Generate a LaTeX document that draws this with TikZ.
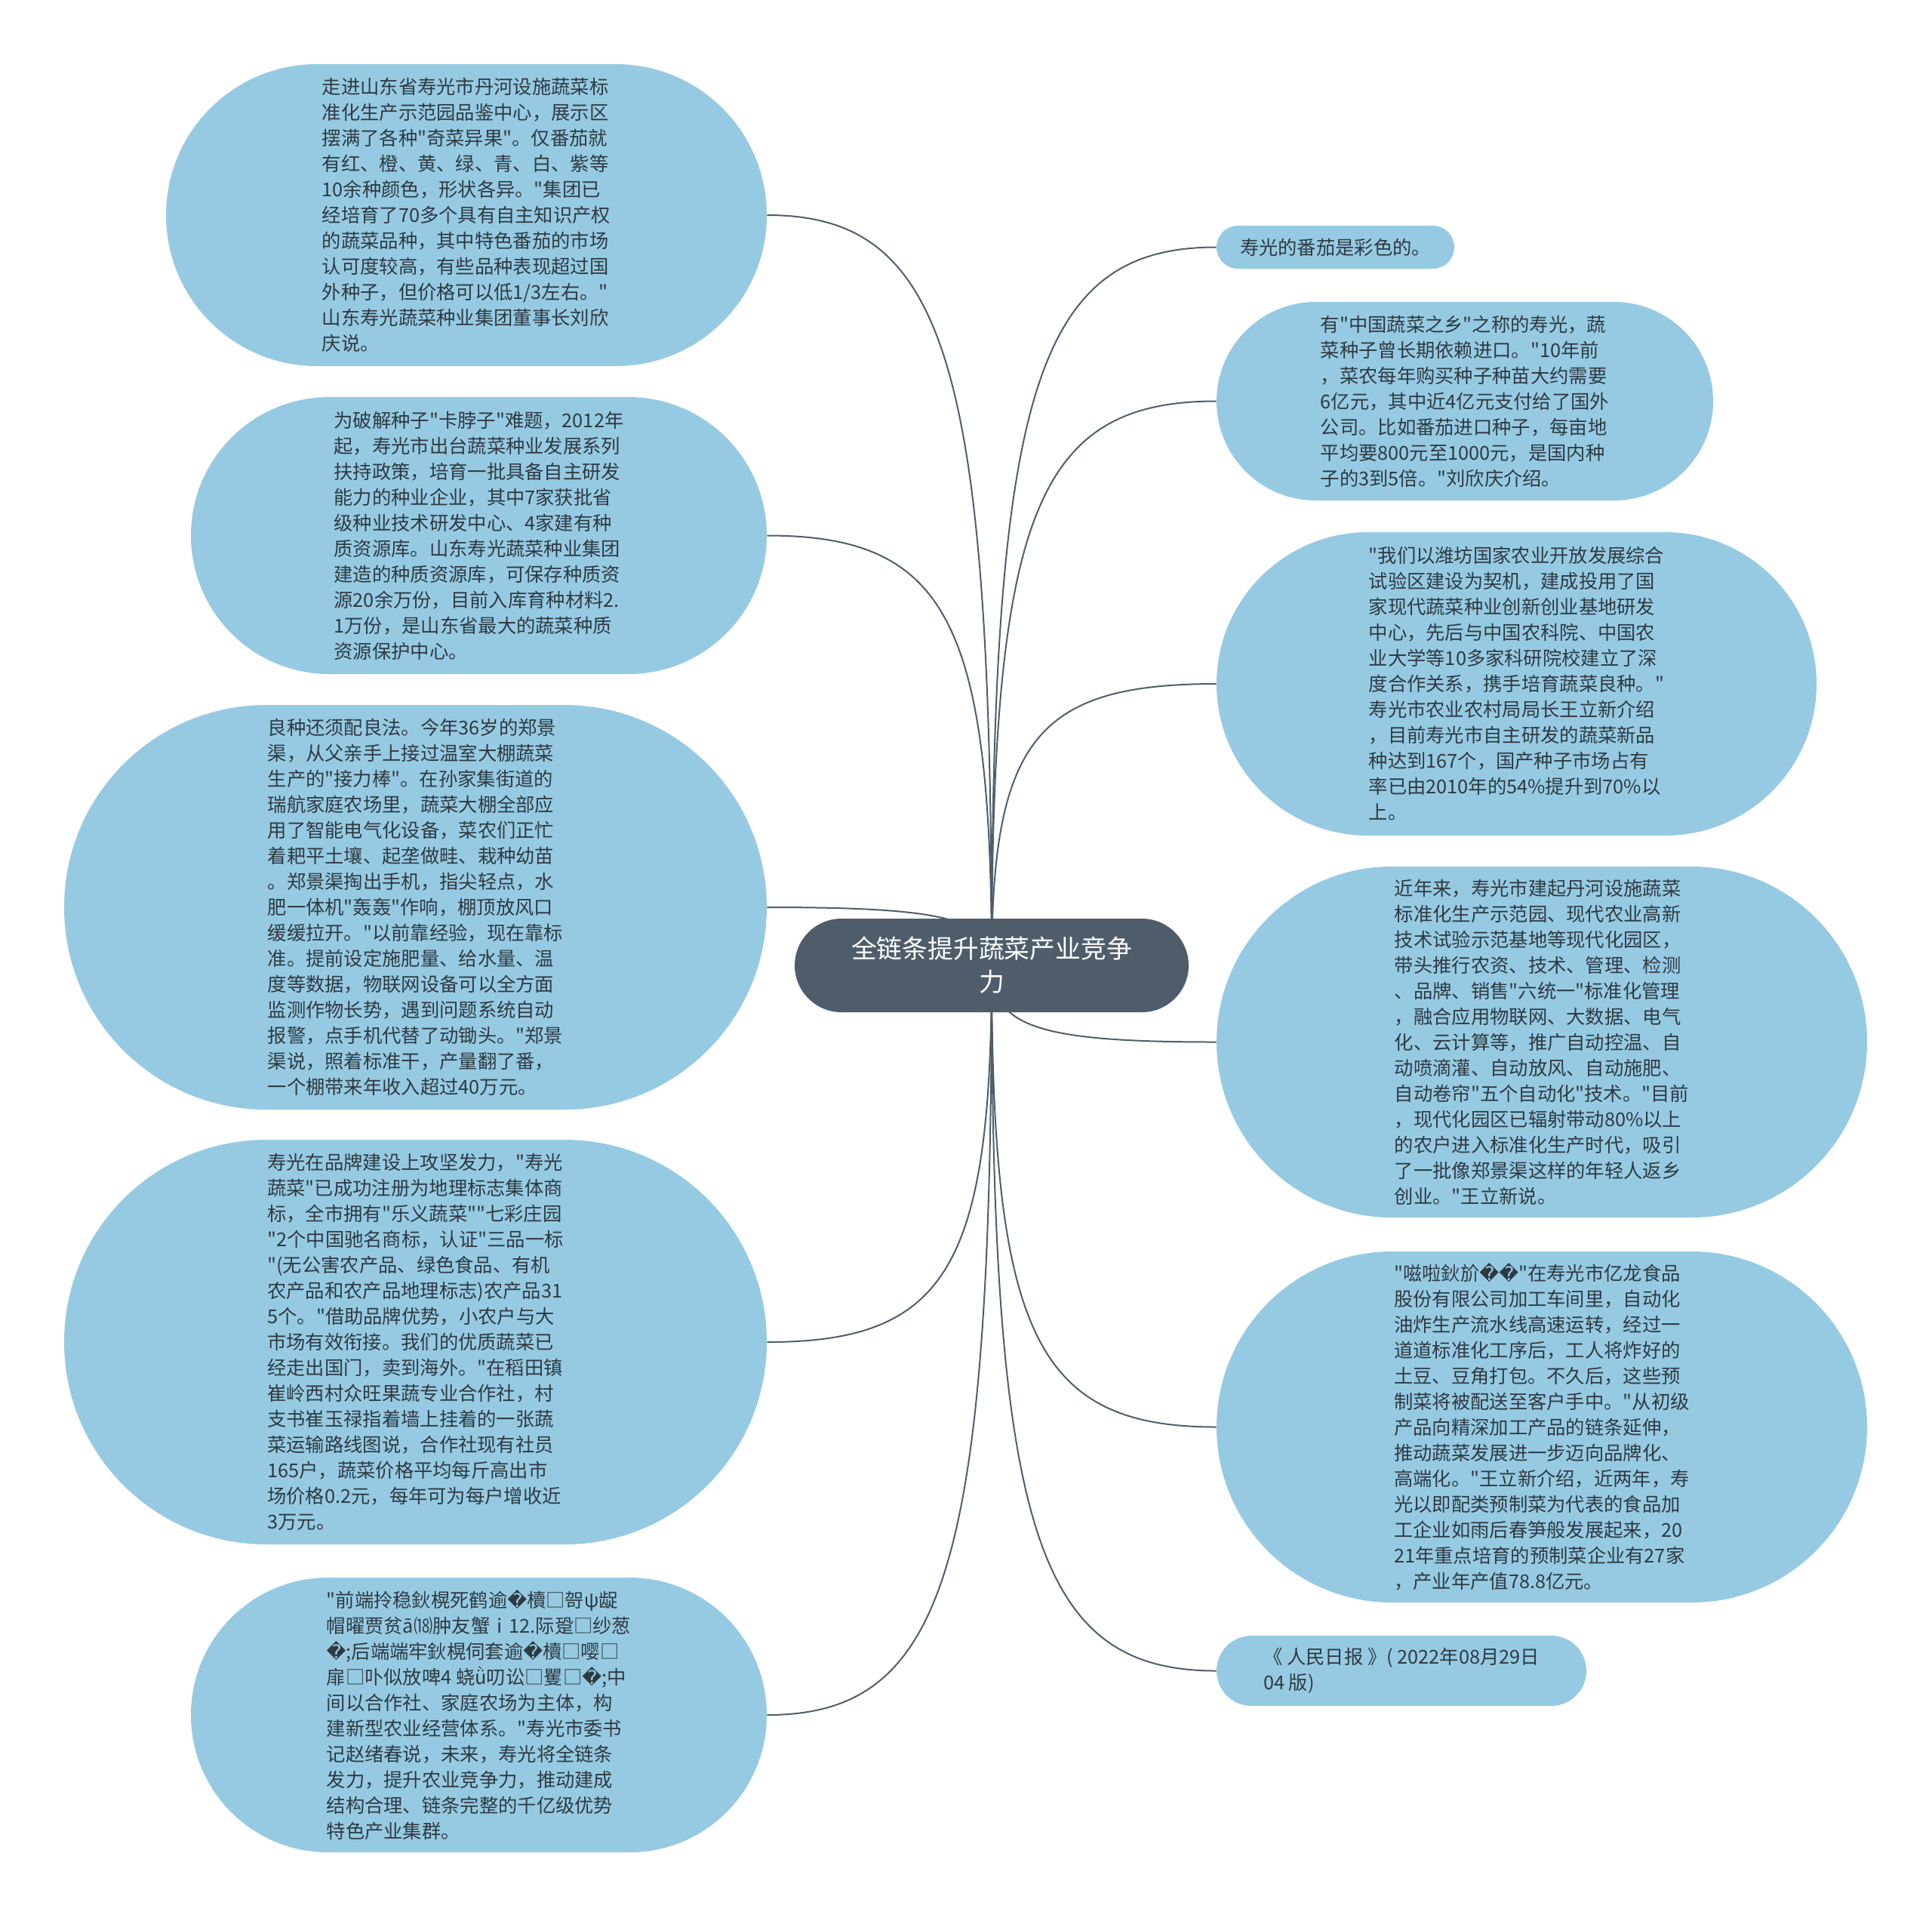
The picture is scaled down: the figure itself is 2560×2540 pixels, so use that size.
\documentclass[tikz,border=0pt]{standalone}
\usepackage{fontspec}
\setmainfont{Noto Sans CJK SC}[Ligatures=TeXOff]
\newfontfamily\dejavu{DejaVu Sans}
\usepackage{xcolor}
\usepackage{tikz}
\usetikzlibrary{shapes,positioning,backgrounds,calc}

\definecolor{leafblue}{HTML}{96CAE3}
\definecolor{slate}{HTML}{4F5D6B}
\definecolor{inkgray}{HTML}{2E3A42}
\newcommand{\badch}{{\dejavu �}}

\begin{document}
\begin{tikzpicture}[x=0.5pt, y=-0.5pt,
    topic/.style={rectangle, fill=slate, text=white, align=center, inner sep=0pt, font=\fontsize{16.9}{22}\selectfont},
    leaf/.style={rectangle, fill=leafblue, text=inkgray, align=left, inner sep=0pt, font=\fontsize{12.65}{17}\selectfont},
    link/.style={draw=slate, line width=1pt,
      to path={.. controls ($(\tikztostart)!0.8!(\tikztostart |- \tikztotarget)$) and ($(\tikztotarget)!0.8!(\tikztostart |- \tikztotarget)$) .. (\tikztotarget)}}
]
\useasboundingbox (0,0) rectangle (2560,2540);

% central topic
\node[topic, minimum width=261pt, minimum height=62pt, rounded corners=31pt] (root) at (1314,1279)
  {全链条提升蔬菜产业竞争\\力};

% left side
\node[leaf, minimum width=398pt, minimum height=200pt, rounded corners=99.9pt] (tomato_show) at (618,285)
  {走进山东省寿光市丹河设施蔬菜标\\准化生产示范园品鉴中心，展示区\\摆满了各种"奇菜异果"。仅番茄就\\有红、橙、黄、绿、青、白、紫等\\10余种颜色，形状各异。"集团已\\经培育了70多个具有自主知识产权\\的蔬菜品种，其中特色番茄的市场\\认可度较高，有些品种表现超过国\\外种子，但价格可以低1/3左右。"\\山东寿光蔬菜种业集团董事长刘欣\\庆说。};
\node[leaf, minimum width=381.5pt, minimum height=183.5pt, rounded corners=91.7pt] (seed_policy) at (634.5,709.5)
  {为破解种子"卡脖子"难题，2012年\\起，寿光市出台蔬菜种业发展系列\\扶持政策，培育一批具备自主研发\\能力的种业企业，其中7家获批省\\级种业技术研发中心、4家建有种\\质资源库。山东寿光蔬菜种业集团\\建造的种质资源库，可保存种质资\\源20余万份，目前入库育种材料2.\\1万份，是山东省最大的蔬菜种质\\资源保护中心。};
\node[leaf, minimum width=465.5pt, minimum height=268pt, rounded corners=133.9pt] (smart_farm) at (550.5,1202)
  {良种还须配良法。今年36岁的郑景\\渠，从父亲手上接过温室大棚蔬菜\\生产的"接力棒"。在孙家集街道的\\瑞航家庭农场里，蔬菜大棚全部应\\用了智能电气化设备，菜农们正忙\\着耙平土壤、起垄做畦、栽种幼苗\\。郑景渠掏出手机，指尖轻点，水\\肥一体机"轰轰"作响，棚顶放风口\\缓缓拉开。"以前靠经验，现在靠标\\准。提前设定施肥量、给水量、温\\度等数据，物联网设备可以全方面\\监测作物长势，遇到问题系统自动\\报警，点手机代替了动锄头。"郑景\\渠说，照着标准干，产量翻了番，\\一个棚带来年收入超过40万元。};
\node[leaf, minimum width=465.5pt, minimum height=268pt, rounded corners=133.9pt] (brand) at (550.5,1778)
  {寿光在品牌建设上攻坚发力，"寿光\\蔬菜"已成功注册为地理标志集体商\\标，全市拥有"乐义蔬菜""七彩庄园\\"2个中国驰名商标，认证"三品一标\\"(无公害农产品、绿色食品、有机\\农产品和农产品地理标志)农产品31\\5个。"借助品牌优势，小农户与大\\市场有效衔接。我们的优质蔬菜已\\经走出国门，卖到海外。"在稻田镇\\崔岭西村众旺果蔬专业合作社，村\\支书崔玉禄指着墙上挂着的一张蔬\\菜运输路线图说，合作社现有社员\\165户，蔬菜价格平均每斤高出市\\场价格0.2元，每年可为每户增收近\\3万元。};
\node[leaf, minimum width=381.5pt, minimum height=182pt, rounded corners=90.9pt] (full_chain) at (634.5,2272)
  {"前端拎稳鈥榥死鹤逾\badch 櫝□哿ψ龊\\帽曜贾贫ā⒅肿友蟹ⅰ12.际跫□纱葱\\\badch;后端端牢鈥榥伺套逾\badch 櫝□嘤□\\扉□卟似放啤4 蛲ǜ叨讼□矍□\badch;中\\间以合作社、家庭农场为主体，构\\建新型农业经营体系。"寿光市委书\\记赵绪春说，未来，寿光将全链条\\发力，提升农业竞争力，推动建成\\结构合理、链条完整的千亿级优势\\特色产业集群。};

% right side
\node[leaf, minimum width=157.5pt, minimum height=28.5pt, rounded corners=14.2pt] (colour) at (1769.5,327.5)
  {寿光的番茄是彩色的。};
\node[leaf, minimum width=329pt, minimum height=131.5pt, rounded corners=65.7pt] (seed_import) at (1941,531.5)
  {有"中国蔬菜之乡"之称的寿光，蔬\\菜种子曾长期依赖进口。"10年前\\，菜农每年购买种子种苗大约需要\\6亿元，其中近4亿元支付给了国外\\公司。比如番茄进口种子，每亩地\\平均要800元至1000元，是国内种\\子的3到5倍。"刘欣庆介绍。};
\node[leaf, minimum width=397.5pt, minimum height=201pt, rounded corners=100.4pt] (weifang) at (2009.5,906)
  {"我们以潍坊国家农业开放发展综合\\试验区建设为契机，建成投用了国\\家现代蔬菜种业创新创业基地研发\\中心，先后与中国农科院、中国农\\业大学等10多家科研院校建立了深\\度合作关系，携手培育蔬菜良种。"\\寿光市农业农村局局长王立新介绍\\，目前寿光市自主研发的蔬菜新品\\种达到167个，国产种子市场占有\\率已由2010年的54\%提升到70\%以\\上。};
\node[leaf, minimum width=431pt, minimum height=232.5pt, rounded corners=116.2pt] (parks) at (2043,1380.5)
  {近年来，寿光市建起丹河设施蔬菜\\标准化生产示范园、现代农业高新\\技术试验示范基地等现代化园区，\\带头推行农资、技术、管理、检测\\、品牌、销售"六统一"标准化管理\\，融合应用物联网、大数据、电气\\化、云计算等，推广自动控温、自\\动喷滴灌、自动放风、自动施肥、\\自动卷帘"五个自动化"技术。"目前\\，现代化园区已辐射带动80\%以上\\的农户进入标准化生产时代，吸引\\了一批像郑景渠这样的年轻人返乡\\创业。"王立新说。};
\node[leaf, minimum width=431pt, minimum height=232.5pt, rounded corners=116.2pt] (ready_meals) at (2043,1890.5)
  {"嗞啦鈥斺\badch\badch"在寿光市亿龙食品\\股份有限公司加工车间里，自动化\\油炸生产流水线高速运转，经过一\\道道标准化工序后，工人将炸好的\\土豆、豆角打包。不久后，这些预\\制菜将被配送至客户手中。"从初级\\产品向精深加工产品的链条延伸，\\推动蔬菜发展进一步迈向品牌化、\\高端化。"王立新介绍，近两年，寿\\光以即配类预制菜为代表的食品加\\工企业如雨后春笋般发展起来，20\\21年重点培育的预制菜企业有27家\\，产业年产值78.8亿元。};
\node[leaf, minimum width=245pt, minimum height=46.5pt, rounded corners=23.2pt] (source) at (1857,2213.5)
  {《 人民日报 》( 2022年08月29日\\04 版)};

% connectors
\begin{scope}[on background layer]
\draw[link] (root.center) to (tomato_show.east);
\draw[link] (root.center) to (seed_policy.east);
\draw[link] (root.center) to (smart_farm.east);
\draw[link] (root.center) to (brand.east);
\draw[link] (root.center) to (full_chain.east);
\draw[link] (root.center) to (colour.west);
\draw[link] (root.center) to (seed_import.west);
\draw[link] (root.center) to (weifang.west);
\draw[link] (root.center) to (parks.west);
\draw[link] (root.center) to (ready_meals.west);
\draw[link] (root.center) to (source.west);
\end{scope}

\end{tikzpicture}
\end{document}
